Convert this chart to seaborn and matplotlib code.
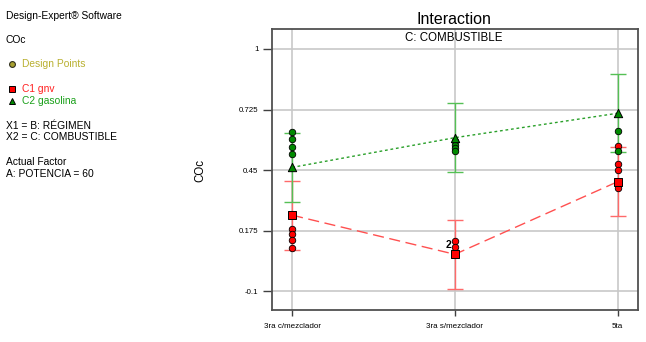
import matplotlib
matplotlib.use("Agg")
import matplotlib.pyplot as plt
import numpy as np
import pandas as pd
import seaborn as sns

# Factor levels (B: RÉGIMEN) and model predictions for each fuel (C: COMBUSTIBLE)
regimen = ["3ra c/mezclador", "3ra s/mezclador", "5ta"]
gnv_pred = [0.245, 0.067, 0.397]
gasolina_pred = [0.462, 0.597, 0.708]
# LSD half-widths for the interval bars
gnv_lsd = [0.157, 0.157, 0.157]
gasolina_lsd = [0.157, 0.157, 0.178]

# Design points (observed COc)
gnv_pts_regimen = ["3ra c/mezclador"] * 4 + ["3ra s/mezclador"] * 2 + ["5ta"] * 4
gnv_pts_coc = [0.182, 0.158, 0.130, 0.097, 0.127, 0.098, 0.557, 0.477, 0.450, 0.368]
gnv_pts_count = [1, 1, 1, 1, 2, 1, 1, 1, 1, 1]
gas_pts_regimen = ["3ra c/mezclador"] * 4 + ["3ra s/mezclador"] * 4 + ["5ta"] * 2
gas_pts_coc = [0.621, 0.589, 0.556, 0.524, 0.582, 0.566, 0.550, 0.536, 0.627, 0.536]

y_ticks = [-0.1, 0.175, 0.45, 0.725, 1.0]
y_tick_labels = ["-0.1", "0.175", "0.45", "0.725", "1"]

RED = "#ff0000"
GREEN = "#008a00"
W, H = 646, 342

plt.rcParams["font.family"] = ["Liberation Sans", "DejaVu Sans"]

fig = plt.figure(figsize=(W / 100, H / 100), dpi=100)
ax = fig.add_axes([271.7 / W, (H - 310) / H, (638 - 271.7) / W, (310 - 29.3) / H])

# Interval bars
ax.errorbar(regimen, gnv_pred, yerr=gnv_lsd, fmt="none", ecolor="#ff6a6a",
            elinewidth=1.0, capsize=5.8, capthick=1.0, zorder=3)
ax.errorbar(regimen, gasolina_pred, yerr=gasolina_lsd, fmt="none", ecolor="#55c055",
            elinewidth=1.0, capsize=5.8, capthick=1.0, zorder=3.1)

# Interaction lines
sns.lineplot(x=regimen, y=gnv_pred, ax=ax, sort=False, color="#ff5050",
             linewidth=1.0, linestyle=(0, (8, 4)), zorder=3.2)
sns.lineplot(x=regimen, y=gasolina_pred, ax=ax, sort=False, color="#2aa02a",
             linewidth=1.0, linestyle=(0, (2, 2)), zorder=3.2)

# Design points
sns.scatterplot(x=gnv_pts_regimen, y=gnv_pts_coc, ax=ax, color=RED, marker="o",
                s=22, edgecolor="black", linewidth=0.6, zorder=4)
sns.scatterplot(x=gas_pts_regimen, y=gas_pts_coc, ax=ax, color=GREEN, marker="o",
                s=22, edgecolor="black", linewidth=0.6, zorder=4)
for xr, yv, n in zip(gnv_pts_regimen, gnv_pts_coc, gnv_pts_count):
    if n > 1:
        ax.annotate(str(n), xy=(regimen.index(xr), yv), xytext=(-2.5, -2.5),
                    textcoords="offset points", ha="right", va="center",
                    fontsize=7.5, fontweight="bold", color="black", zorder=6)

# Predicted means
sns.scatterplot(x=regimen, y=gnv_pred, ax=ax, color=RED, marker="s", s=30,
                edgecolor="black", linewidth=0.7, zorder=5)
sns.scatterplot(x=regimen, y=gasolina_pred, ax=ax, color=GREEN, marker="^", s=36,
                edgecolor="black", linewidth=0.7, zorder=5)

ax.set_xlim(-0.125, 2.125)
ax.set_ylim(-0.186, 1.0895)
ax.set_yticks(y_ticks)
ax.set_yticklabels(y_tick_labels)
ax.grid(True, color="#c8c8c8", linewidth=1.2)
ax.set_axisbelow(True)
ax.tick_params(axis="y", direction="out", length=6.5, width=1.0, color="#404040",
               labelsize=5.7, pad=3)
ax.tick_params(axis="x", direction="out", length=4.3, width=1.0, color="#404040",
               labelsize=5.8, pad=5)
for sp in ax.spines.values():
    sp.set_color("#505050")
    sp.set_linewidth(1.3)
ax.set_xlabel("")
ax.set_ylabel("")

fig.text(200 / W, 1 - 171 / H, "COc", rotation=90, ha="center", va="center", fontsize=8.3)
fig.text(454 / W, 1 - 19 / H, "Interaction", ha="center", va="center", fontsize=11.5)
fig.text(454 / W, 1 - 38 / H, "C: COMBUSTIBLE", ha="center", va="center", fontsize=8.3)

# Side panel with run information and key
side = fig.add_axes([0, 0, 1, 1], zorder=-1)
side.set_xlim(0, W)
side.set_ylim(H, 0)
side.axis("off")
fs = 7.4
side.text(6, 16, "Design-Expert\u00ae Software", fontsize=fs, va="center")
side.text(6, 40, "COc", fontsize=fs, va="center")
side.plot([12], [64.3], marker="o", markersize=4.2, markerfacecolor="#a8a030",
          markeredgecolor="#303020", markeredgewidth=0.8)
side.text(22, 64.3, "Design Points", fontsize=fs, va="center", color="#b9b030")
side.plot([12], [89.3], marker="s", markersize=4.6, markerfacecolor=RED,
          markeredgecolor="black", markeredgewidth=0.7)
side.text(22, 89.3, "C1 gnv", fontsize=fs, va="center", color="#ff2020")
side.plot([12], [100.7], marker="^", markersize=5, markerfacecolor=GREEN,
          markeredgecolor="black", markeredgewidth=0.7)
side.text(22, 100.7, "C2 gasolina", fontsize=fs, va="center", color="#1aa01a")
side.text(6, 126, "X1 = B: R\u00c9GIMEN", fontsize=fs, va="center")
side.text(6, 137.5, "X2 = C: COMBUSTIBLE", fontsize=fs, va="center")
side.text(6, 162, "Actual Factor", fontsize=fs, va="center")
side.text(6, 174, "A: POTENCIA = 60", fontsize=fs, va="center")

fig.savefig("out.png", dpi=100)
